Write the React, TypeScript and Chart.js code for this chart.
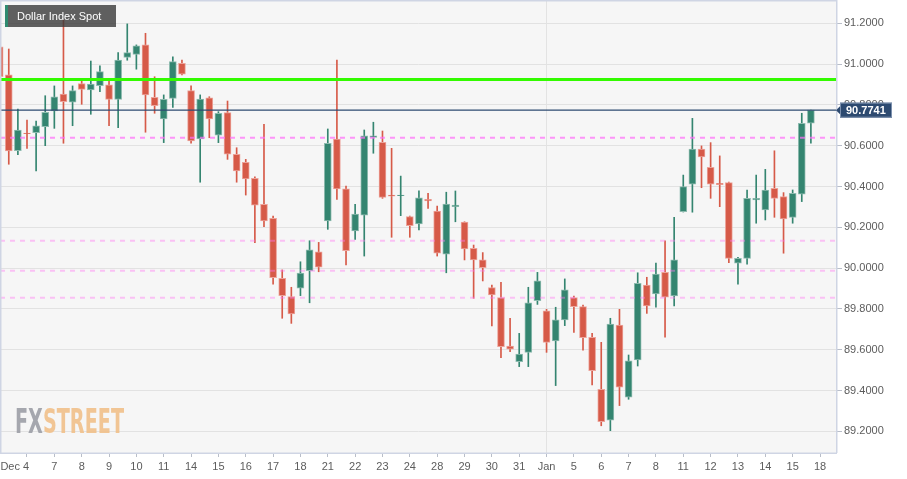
import React, { useEffect, useRef } from 'react';
import { Chart, registerables } from 'chart.js';

Chart.register(...registerables);

const chartTitle = 'Dollar Index Spot';
const watermarkParts = ['FX', 'STREET'];

// One tick label per trading day (3 candles of 8 hours each per day)
const dayLabels = ['Dec 4', '7', '8', '9', '10', '11', '14', '15', '16', '17', '18', '21', '22', '23', '24', '28', '29', '30', '31', 'Jan', '5', '6', '7', '8', '11', '12', '13', '14', '15', '18'];
const candlesPerDay = 3;

const opens = [
  91.085, 90.947, 90.576, 90.662, 90.664, 90.693, 90.770, 90.853, 90.813, 90.904,
  90.873, 90.894, 90.898, 90.827, 91.033, 91.048, 91.094, 90.837, 90.731, 90.832,
  91.004, 90.870, 90.633, 90.835, 90.652, 90.762, 90.558, 90.519, 90.440, 90.313,
  90.244, 89.950, 89.860, 89.901, 89.987, 90.080, 90.231, 90.633, 90.388, 90.182,
  90.260, 90.641, 90.617, 90.358, 90.355, 90.252, 90.216, 90.337, 90.280, 90.068,
  90.301, 90.225, 90.097, 90.040, 89.904, 89.855, 89.618, 89.541, 89.587, 89.840,
  89.790, 89.643, 89.746, 89.855, 89.811, 89.661, 89.406, 89.255, 89.721, 89.367,
  89.550, 89.917, 89.873, 89.979, 89.863, 90.276, 90.412, 90.584, 90.494, 90.416,
  90.419, 90.024, 90.048, 90.334, 90.285, 90.391, 90.350, 90.249, 90.362, 90.710,
];
const highs = [
  91.099, 91.074, 90.780, 90.726, 90.721, 90.845, 90.893, 91.216, 90.893, 90.922,
  91.015, 90.992, 90.922, 91.056, 91.197, 91.094, 91.151, 90.938, 90.849, 91.036,
  91.020, 90.893, 90.849, 90.840, 90.767, 90.819, 90.590, 90.533, 90.447, 90.705,
  90.255, 89.991, 89.906, 90.031, 90.134, 90.126, 90.682, 91.020, 90.402, 90.313,
  90.677, 90.715, 90.672, 90.587, 90.451, 90.255, 90.379, 90.367, 90.304, 90.372,
  90.378, 90.227, 90.113, 90.076, 89.917, 89.930, 89.754, 89.680, 89.906, 89.979,
  89.798, 89.808, 89.947, 89.863, 89.819, 89.680, 89.636, 89.754, 89.798, 89.574,
  89.977, 89.955, 90.024, 90.134, 90.249, 90.456, 90.734, 90.599, 90.615, 90.550,
  90.422, 90.053, 90.383, 90.456, 90.484, 90.575, 90.370, 90.383, 90.759, 90.7741,
];
const lows = [
  90.922, 90.509, 90.556, 90.587, 90.476, 90.600, 90.685, 90.612, 90.698, 90.803,
  90.754, 90.865, 90.698, 90.688, 91.019, 90.975, 90.666, 90.759, 90.615, 90.788,
  90.947, 90.612, 90.421, 90.639, 90.615, 90.533, 90.421, 90.358, 90.125, 90.203,
  89.921, 89.754, 89.729, 89.865, 89.830, 89.982, 90.190, 90.337, 90.015, 90.141,
  90.059, 90.563, 90.342, 90.151, 90.257, 90.151, 90.187, 90.293, 90.059, 89.977,
  90.227, 90.040, 89.852, 89.937, 89.716, 89.561, 89.590, 89.517, 89.517, 89.822,
  89.587, 89.424, 89.718, 89.685, 89.598, 89.427, 89.227, 89.203, 89.326, 89.357,
  89.520, 89.778, 89.808, 89.661, 89.814, 90.275, 90.274, 90.394, 90.342, 90.301,
  90.026, 89.921, 90.019, 90.220, 90.236, 90.249, 90.073, 90.220, 90.326, 90.612,
];
const closes = [
  90.938, 90.574, 90.677, 90.659, 90.697, 90.764, 90.840, 90.816, 90.870, 90.876,
  90.902, 90.963, 90.827, 91.020, 91.056, 91.089, 90.849, 90.796, 90.827, 91.012,
  90.951, 90.624, 90.829, 90.731, 90.759, 90.559, 90.476, 90.437, 90.309, 90.231,
  89.953, 89.865, 89.775, 89.975, 90.089, 90.004, 90.612, 90.388, 90.085, 90.265,
  90.648, 90.648, 90.347, 90.352, 90.358, 90.208, 90.345, 90.329, 90.073, 90.314,
  90.309, 90.094, 90.040, 90.002, 89.868, 89.615, 89.602, 89.579, 89.830, 89.938,
  89.636, 89.746, 89.893, 89.811, 89.659, 89.497, 89.247, 89.726, 89.416, 89.546,
  89.925, 89.814, 89.971, 89.857, 90.040, 90.399, 90.584, 90.545, 90.412, 90.409,
  90.048, 90.048, 90.342, 90.342, 90.383, 90.342, 90.241, 90.367, 90.710, 90.7741,
];

const yTickValues = [89.2, 89.4, 89.6, 89.8, 90.0, 90.2, 90.4, 90.6, 90.8, 91.0, 91.2];
const yMin = 89.0936;
const yMax = 91.3142;
const xMin = 0.038;
const xMax = 91.865;

const resistanceLevel = 90.925;
const lastPrice = 90.7741;
const keyLevel = 90.639;
const pivotLevels = [90.134, 89.987, 89.855];

const UP = '#348570';
const DOWN = '#d65a48';
const UP_EDGE = '#8ebbaf';
const DOWN_EDGE = '#eca39a';
const FONT = '"Liberation Sans", Arial, Helvetica, sans-serif';

const decor = {
  id: 'decor',
  beforeDraw(chart: any) {
    const { ctx, chartArea: a } = chart;
    ctx.save();
    ctx.fillStyle = '#ffffff';
    ctx.fillRect(0, 0, chart.width, chart.height);
    ctx.fillStyle = '#f6f6f6';
    ctx.fillRect(a.left, a.top, a.right - a.left, a.bottom - a.top);
    ctx.restore();
  },
  beforeDatasetsDraw(chart: any) {
    const { ctx } = chart;
    ctx.save();
    ctx.font = 'bold 40px "Liberation Sans Narrow", "DejaVu Sans Condensed", "Liberation Sans", sans-serif';
    const full = watermarkParts.join('');
    const m = ctx.measureText(full);
    const w1 = ctx.measureText(watermarkParts[0]).width;
    const capH = m.actualBoundingBoxAscent || 29;
    const sx = 109 / m.width;
    const sy = 26 / capH;
    ctx.translate(15, 433);
    ctx.scale(sx, sy);
    ctx.globalAlpha = 0.9;
    ctx.textBaseline = 'alphabetic';
    ctx.fillStyle = '#9c9ea6';
    ctx.fillText(watermarkParts[0], 0, 0);
    ctx.fillStyle = '#f1c089';
    ctx.fillText(watermarkParts[1], w1, 0);
    ctx.restore();
  },
  afterDatasetsDraw(chart: any) {
    const { ctx, chartArea: a, scales } = chart;
    const y = scales.y;
    ctx.save();
    ctx.beginPath();
    ctx.rect(a.left, a.top, a.right - a.left, a.bottom - a.top);
    ctx.clip();
    const hline = (v: number, color: string, width: number, dash: number[]) => {
      const py = y.getPixelForValue(v);
      ctx.beginPath();
      ctx.setLineDash(dash);
      ctx.strokeStyle = color;
      ctx.lineWidth = width;
      ctx.moveTo(a.left, py);
      ctx.lineTo(a.right, py);
      ctx.stroke();
    };
    pivotLevels.forEach((v) => hline(v, 'rgba(255,120,240,0.42)', 2, [5, 5]));
    hline(keyLevel, 'rgba(255,110,250,0.72)', 2, [5, 5]);
    hline(resistanceLevel, '#33fb00', 3, []);
    hline(lastPrice, '#2d4a70', 1.3, []);
    ctx.restore();
  },
  afterDraw(chart: any) {
    const { ctx, chartArea: a, scales } = chart;
    ctx.save();
    ctx.strokeStyle = '#cfd5e4';
    ctx.lineWidth = 1.5;
    ctx.setLineDash([]);
    ctx.beginPath();
    ctx.moveTo(a.left + 0.75, a.bottom);
    ctx.lineTo(a.left + 0.75, a.top + 0.75);
    ctx.lineTo(a.right - 0.25, a.top + 0.75);
    ctx.lineTo(a.right - 0.25, a.bottom);
    ctx.stroke();
    ctx.lineWidth = 1.5;
    ctx.beginPath();
    ctx.moveTo(a.left, a.bottom + 0.25);
    ctx.lineTo(a.right, a.bottom + 0.25);
    ctx.stroke();

    // last price tag
    const py = scales.y.getPixelForValue(lastPrice);
    const bx = a.right + 3;
    const bw = 52;
    const bh = 15;
    ctx.fillStyle = '#2d4a70';
    ctx.beginPath();
    ctx.moveTo(a.right - 1, py);
    ctx.lineTo(bx, py - 4);
    ctx.lineTo(bx, py + 4);
    ctx.closePath();
    ctx.fill();
    ctx.fillRect(bx, py - bh / 2, bw, bh);
    ctx.strokeStyle = '#7d91ae';
    ctx.lineWidth = 1;
    ctx.strokeRect(bx + 0.5, py - bh / 2 + 0.5, bw - 1, bh - 1);
    ctx.fillStyle = '#ffffff';
    ctx.font = 'bold 11px ' + FONT;
    ctx.textBaseline = 'middle';
    ctx.textAlign = 'left';
    ctx.fillText(lastPrice.toFixed(4), bx + 6, py + 0.5);
    ctx.restore();
  },
};

export default function App() {
  const ref = useRef<HTMLCanvasElement>(null);

  useEffect(() => {
    document.body.style.margin = '0';
    const idx = opens.map((_, i) => i);
    const isUp = (i: number) => closes[i] >= opens[i];
    const janTick = (dayLabels.indexOf('Jan') + 1) * candlesPerDay;

    const chart = new Chart(ref.current as HTMLCanvasElement, {
      type: 'bar',
      data: {
        datasets: [
          {
            label: 'wick',
            data: idx.map((i) => ({ x: i, y: [lows[i], highs[i]] })) as any,
            backgroundColor: idx.map((i) => (isUp(i) ? UP : DOWN)),
            borderWidth: 0,
            barThickness: 1,
            grouped: false,
            order: 2,
          } as any,
          {
            label: 'body',
            data: idx.map((i) => ({ x: i, y: [opens[i], closes[i]] })) as any,
            backgroundColor: idx.map((i) => (isUp(i) ? UP : DOWN)),
            borderColor: idx.map((i) => (isUp(i) ? UP_EDGE : DOWN_EDGE)),
            borderWidth: 1,
            borderSkipped: false,
            barThickness: 7,
            grouped: false,
            order: 1,
          } as any,
        ],
      },
      options: {
        responsive: false,
        animation: false,
        events: [],
        layout: { padding: { left: 0, top: 0, right: 0, bottom: 0 } },
        plugins: { legend: { display: false }, tooltip: { enabled: false } },
        scales: {
          x: {
            type: 'linear',
            min: xMin,
            max: xMax,
            offset: false,
            border: { display: false },
            grid: {
              offset: false,
              color: (c: any) => (c.tick && c.tick.value === janTick ? '#e3e3e3' : 'rgba(0,0,0,0)'),
              tickColor: '#b9bec9',
              tickLength: 4,
              lineWidth: 1,
            },
            afterBuildTicks: (s: any) => {
              s.ticks = dayLabels.map((_, k) => ({ value: (k + 1) * candlesPerDay }));
            },
            ticks: {
              autoSkip: false,
              maxRotation: 0,
              padding: 3,
              color: '#5c5c5c',
              font: { family: FONT, size: 11 },
              callback: (_v: any, index: number) => (index === 0 ? dayLabels[0] + '        ' : dayLabels[index]),
            },
            afterFit: (s: any) => {
              s.height = 26;
              s.paddingLeft = 0;
              s.paddingRight = 0;
            },
          } as any,
          y: {
            type: 'linear',
            position: 'right',
            min: yMin,
            max: yMax,
            border: { display: false },
            grid: { color: '#e2e2e2', tickColor: '#b9bec9', tickLength: 5, lineWidth: 1 },
            afterBuildTicks: (s: any) => {
              s.ticks = yTickValues.map((v) => ({ value: v }));
            },
            ticks: {
              padding: 2,
              color: '#5c5c5c',
              font: { family: FONT, size: 11 },
              callback: (v: any) => Number(v).toFixed(4),
            },
            afterFit: (s: any) => {
              s.width = 70;
              s.paddingTop = 0;
              s.paddingBottom = 0;
            },
          } as any,
        },
      },
      plugins: [decor],
    } as any);
    return () => chart.destroy();
  }, []);

  return (
    <div style={{ position: 'relative', width: 907, height: 479, background: '#fff' }}>
      <canvas ref={ref} width={907} height={479} style={{ display: 'block', width: 907, height: 479 }} />
      <div
        style={{
          position: 'absolute',
          left: 5,
          top: 5,
          width: 111,
          height: 22,
          boxSizing: 'border-box',
          background: 'rgba(58,58,58,0.8)',
          borderLeft: '3px solid #2f8a70',
          color: '#ffffff',
          fontFamily: FONT,
          fontSize: 11,
          lineHeight: '22px',
          paddingLeft: 9,
          whiteSpace: 'nowrap',
        }}
      >
        {chartTitle}
      </div>
    </div>
  );
}
